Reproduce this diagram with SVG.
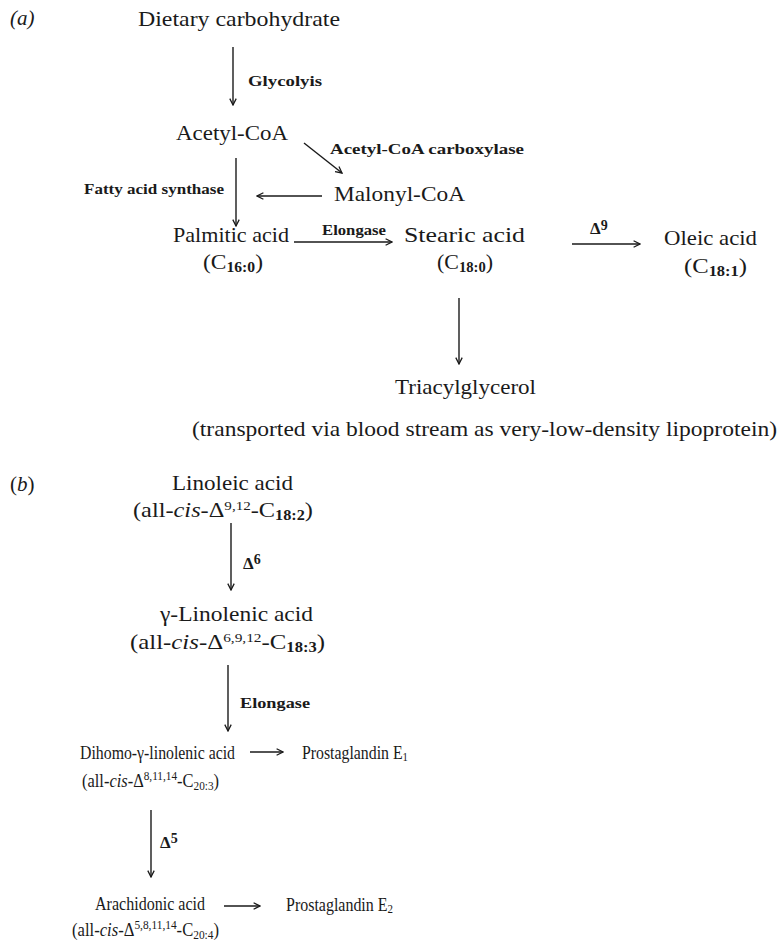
<svg xmlns="http://www.w3.org/2000/svg" width="783" height="943" viewBox="0 0 783 943">
<style>
text{font-family:"Liberation Serif","DejaVu Serif",serif;fill:#1a1a1a}
.m{font-size:21px}
.c{font-size:19px}
.l{font-size:15.5px;font-weight:bold}
.d{font-size:17px;font-weight:bold}
.ds{font-size:14px;font-weight:bold}
.sub{font-size:14px;font-weight:bold}
.sup{font-size:13px}
.it{font-style:italic}
.cn{stroke:#1a1a1a;stroke-width:1.4;fill:none;marker-end:url(#ah)}
</style>
<defs>
<marker id="ah" viewBox="0 0 10 10" refX="9" refY="5" markerWidth="8" markerHeight="8" markerUnits="userSpaceOnUse" orient="auto">
<path d="M1,1 L9,5 L1,9" fill="none" stroke="#1a1a1a" stroke-width="1.6"/>
</marker>
</defs>
<rect width="783" height="943" fill="#fff"/>
<g id="connectors">
<line class="cn" x1="233" y1="47" x2="233" y2="105"/>
<line class="cn" x1="304" y1="143" x2="342" y2="173"/>
<line class="cn" x1="236" y1="158" x2="236" y2="226"/>
<line class="cn" x1="322" y1="196" x2="257" y2="196"/>
<line class="cn" x1="294" y1="242" x2="392" y2="242"/>
<line class="cn" x1="572" y1="244" x2="640" y2="244"/>
<line class="cn" x1="459" y1="298" x2="459" y2="364"/>
<line class="cn" x1="231" y1="523" x2="231" y2="590"/>
<line class="cn" x1="228" y1="665" x2="228" y2="731"/>
<line class="cn" x1="250" y1="752" x2="283" y2="752"/>
<line class="cn" x1="151" y1="810" x2="151" y2="877"/>
<line class="cn" x1="224" y1="906" x2="260" y2="906"/>
</g>
<g id="labels">
<text class="m" x="10" y="25"><tspan class="it">(a)</tspan></text>
<text class="m" x="10" y="491">(<tspan class="it">b</tspan>)</text>
<text class="l" x="248" y="86" textLength="74" lengthAdjust="spacingAndGlyphs">Glycolyis</text>
<text class="l" x="330" y="154" textLength="194" lengthAdjust="spacingAndGlyphs">Acetyl-CoA carboxylase</text>
<text class="l" x="84" y="194" textLength="140" lengthAdjust="spacingAndGlyphs">Fatty acid synthase</text>
<text class="l" x="322" y="235" textLength="64" lengthAdjust="spacingAndGlyphs">Elongase</text>
<text class="d" x="590" y="234">Δ<tspan class="ds" dy="-4">9</tspan></text>
<text class="d" x="243" y="569">Δ<tspan class="ds" dy="-5">6</tspan></text>
<text class="l" x="240" y="708" textLength="70" lengthAdjust="spacingAndGlyphs">Elongase</text>
<text class="d" x="160" y="848">Δ<tspan class="ds" dy="-5">5</tspan></text>
</g>
<g id="n-dietary"><text class="m" x="138" y="26" textLength="202" lengthAdjust="spacingAndGlyphs">Dietary carbohydrate</text></g>
<g id="n-acetyl"><text class="m" x="176" y="140" textLength="112" lengthAdjust="spacingAndGlyphs">Acetyl-CoA</text></g>
<g id="n-malonyl"><text class="m" x="334" y="201" textLength="131" lengthAdjust="spacingAndGlyphs">Malonyl-CoA</text></g>
<g id="n-palmitic">
<text class="m" x="173" y="242" textLength="116" lengthAdjust="spacingAndGlyphs">Palmitic acid</text>
<text class="m" x="203" y="269" textLength="60" lengthAdjust="spacingAndGlyphs">(C<tspan class="sub" dy="3">16:0</tspan><tspan dy="-3">)</tspan></text>
</g>
<g id="n-stearic">
<text class="m" x="404" y="242" textLength="121" lengthAdjust="spacingAndGlyphs">Stearic acid</text>
<text class="m" x="437" y="269" textLength="56" lengthAdjust="spacingAndGlyphs">(C<tspan class="sub" dy="3">18:0</tspan><tspan dy="-3">)</tspan></text>
</g>
<g id="n-oleic">
<text class="m" x="664" y="245" textLength="93" lengthAdjust="spacingAndGlyphs">Oleic acid</text>
<text class="m" x="684" y="273" textLength="63" lengthAdjust="spacingAndGlyphs">(C<tspan class="sub" dy="3">18:1</tspan><tspan dy="-3">)</tspan></text>
</g>
<g id="n-triacyl">
<text class="m" x="395" y="394" textLength="141" lengthAdjust="spacingAndGlyphs">Triacylglycerol</text>
<text class="m" x="192" y="436" textLength="585" lengthAdjust="spacingAndGlyphs">(transported via blood stream as very-low-density lipoprotein)</text>
</g>
<g id="n-linoleic">
<text class="m" x="172" y="490" textLength="121" lengthAdjust="spacingAndGlyphs">Linoleic acid</text>
<text class="m" x="133" y="517" textLength="180" lengthAdjust="spacingAndGlyphs">(all-<tspan class="it">cis</tspan>-Δ<tspan class="sup" dy="-7">9,12</tspan><tspan dy="7">-C</tspan><tspan class="sub" dy="3">18:2</tspan><tspan dy="-3">)</tspan></text>
</g>
<g id="n-glinolenic">
<text class="m" x="160" y="621" textLength="153" lengthAdjust="spacingAndGlyphs">γ-Linolenic acid</text>
<text class="m" x="130" y="649" textLength="195" lengthAdjust="spacingAndGlyphs">(all-<tspan class="it">cis</tspan>-Δ<tspan class="sup" dy="-7">6,9,12</tspan><tspan dy="7">-C</tspan><tspan class="sub" dy="3">18:3</tspan><tspan dy="-3">)</tspan></text>
</g>
<g id="n-dihomo">
<text class="c" x="80" y="759" textLength="155" lengthAdjust="spacingAndGlyphs">Dihomo-γ-linolenic acid</text>
<text class="c" x="82" y="787" textLength="137" lengthAdjust="spacingAndGlyphs">(all-<tspan class="it">cis</tspan>-Δ<tspan class="sup" dy="-7">8,11,14</tspan><tspan dy="7">-C</tspan><tspan class="sup" dy="3">20:3</tspan><tspan dy="-3">)</tspan></text>
</g>
<g id="n-pge1"><text class="c" x="302" y="759" textLength="106" lengthAdjust="spacingAndGlyphs">Prostaglandin E<tspan class="sup" dy="2">1</tspan></text></g>
<g id="n-arachidonic">
<text class="c" x="95" y="910" textLength="110" lengthAdjust="spacingAndGlyphs">Arachidonic acid</text>
<text class="c" x="72" y="936" textLength="147" lengthAdjust="spacingAndGlyphs">(all-<tspan class="it">cis</tspan>-Δ<tspan class="sup" dy="-7">5,8,11,14</tspan><tspan dy="7">-C</tspan><tspan class="sup" dy="3">20:4</tspan><tspan dy="-3">)</tspan></text>
</g>
<g id="n-pge2"><text class="c" x="286" y="911" textLength="107" lengthAdjust="spacingAndGlyphs">Prostaglandin E<tspan class="sup" dy="2">2</tspan></text></g>
</svg>
